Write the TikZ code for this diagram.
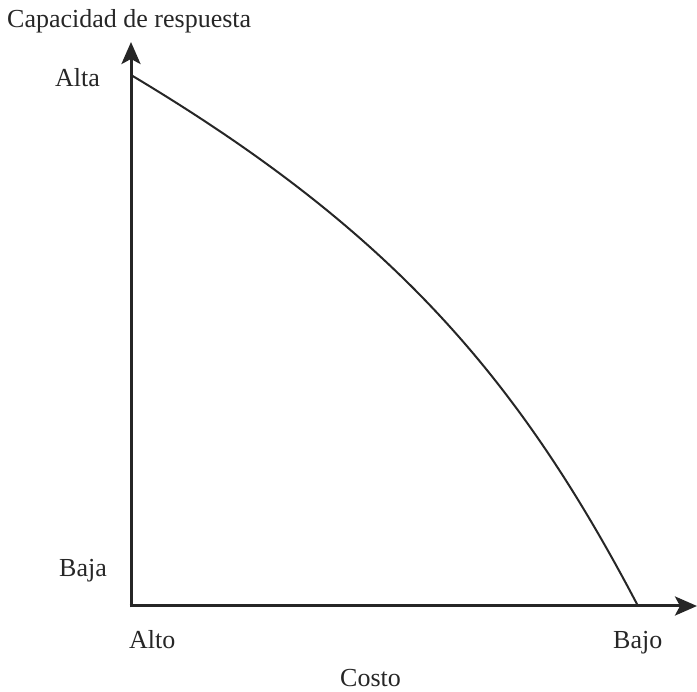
\documentclass[tikz,border=0pt]{standalone}
\usepackage{fontspec}
\setmainfont{Liberation Serif}
\usetikzlibrary{arrows.meta}
\begin{document}
\begin{tikzpicture}[x=1pt,y=-1pt,
  axis/.style={line width=3pt, color=black!85, -{Stealth[length=22pt,width=19pt,inset=5pt]}},
  curveline/.style={line width=2pt, color=black!85},
  lbl/.style={anchor=base west, inner sep=0pt, font=\fontsize{26}{30}\selectfont, text=black!85}]
\useasboundingbox (0,0) rectangle (697,692);
\coordinate (o) at (131,606);
\coordinate (ytip) at (131,42);
\coordinate (xtip) at (697,606);
\coordinate (cs) at (131,75);
\coordinate (ce) at (638,606);
\draw[axis] ([yshift=-1.5pt]o) -- (ytip);
\draw[axis] ([xshift=-1.5pt]o) -- (xtip);
\draw[curveline] (cs) .. controls (392,231) and (518,377) .. (ce);
\node[lbl] (ylab) at (7,28) {Capacidad de respuesta};
\node[lbl] (alta) at (55,87) {Alta};
\node[lbl] (baja) at (59,577) {Baja};
\node[lbl] (alto) at (129,649) {Alto};
\node[lbl] (bajo) at (613,649) {Bajo};
\node[lbl] (xlab) at (340,687) {Costo};
\end{tikzpicture}
\end{document}
